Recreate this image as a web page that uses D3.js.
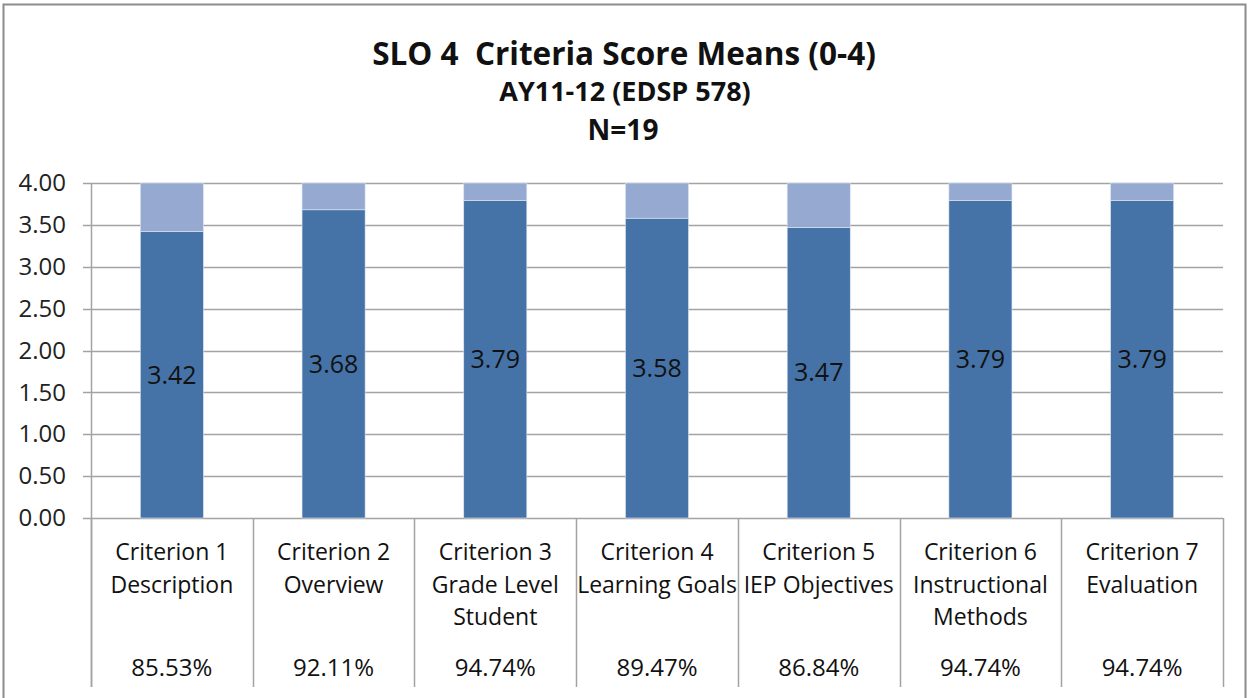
<!DOCTYPE html>
<html>
<head>
<meta charset="utf-8">
<script src="https://cdn.jsdelivr.net/npm/d3@7"></script>
<style>
  body { margin: 0; background: #fff; }
  text { font-family: "Open Sans", Lato, sans-serif; fill: #111; }
</style>
</head>
<body>
<div id="chart"></div>
<script>
// data
var categories = ["Criterion 1", "Criterion 2", "Criterion 3", "Criterion 4", "Criterion 5", "Criterion 6", "Criterion 7"];
var subLabels = [["Description"], ["Overview"], ["Grade Level", "Student"], ["Learning Goals"], ["IEP Objectives"], ["Instructional", "Methods"], ["Evaluation"]];
var means = [3.42, 3.68, 3.79, 3.58, 3.47, 3.79, 3.79];
var percents = ["85.53%", "92.11%", "94.74%", "89.47%", "86.84%", "94.74%", "94.74%"];
var yTicks = [0, 0.5, 1, 1.5, 2, 2.5, 3, 3.5, 4];
var maxScore = 4;

var width = 1249, height = 698;
var color = ["#4673A7", "#95A9D1"];

var svg = d3.select("#chart").append("svg")
    .attr("width", width)
    .attr("height", height);

// outer chart border
svg.append("rect")
    .attr("x", 3.5).attr("y", 4.5)
    .attr("width", 1242).attr("height", 700)
    .style("fill", "none")
    .style("stroke", "#8c8c8c")
    .style("stroke-width", 2);

// titles
svg.append("text").attr("x", 624).attr("y", 65).attr("text-anchor", "middle")
    .style("font-size", "31.5px").style("font-weight", "bold")
    .style("white-space", "pre")
    .text("SLO 4  Criteria Score Means (0-4)");
svg.append("text").attr("x", 625).attr("y", 101).attr("text-anchor", "middle")
    .style("font-size", "27px").style("font-weight", "bold")
    .text("AY11-12 (EDSP 578)");
svg.append("text").attr("x", 623).attr("y", 140).attr("text-anchor", "middle")
    .style("font-size", "28px").style("font-weight", "bold")
    .text("N=19");

var plotLeft = 91, plotRight = 1223, plotTop = 183, plotBottom = 518, tableBottom = 687;

var x = d3.scaleBand()
    .domain(categories)
    .range([plotLeft, plotRight])
    .paddingInner(0.61)
    .paddingOuter(0.305);

var y = d3.scaleLinear()
    .domain([0, maxScore])
    .range([plotBottom, plotTop]);

var step = x.step();

// gridlines
svg.append("g").selectAll("line")
    .data(yTicks)
    .enter().append("line")
    .attr("x1", plotLeft - 8).attr("x2", plotRight)
    .attr("y1", function(d) { return Math.round(y(d)) + 0.5; })
    .attr("y2", function(d) { return Math.round(y(d)) + 0.5; })
    .style("stroke", "#a3a3a3")
    .style("stroke-width", 1.5);

// y axis
var yAxis = d3.axisLeft(y)
    .tickValues(yTicks)
    .tickFormat(d3.format(".2f"))
    .tickSize(0)
    .tickPadding(25);

var gy = svg.append("g").attr("transform", "translate(" + plotLeft + ",0)").call(yAxis);
gy.select(".domain").remove();
gy.selectAll("text")
    .style("font-size", "24px")
    .style("font-family", "'Open Sans', Lato, sans-serif")
    .style("fill", "#222");

// vertical axis line
svg.append("line")
    .attr("x1", plotLeft + 0.5).attr("x2", plotLeft + 0.5)
    .attr("y1", plotTop).attr("y2", tableBottom)
    .style("stroke", "#a3a3a3").style("stroke-width", 1.5);

// stacked bars
var stack = d3.stack().keys(["mean", "rest"]);
var rows = categories.map(function(c, i) {
    return { cat: c, mean: means[i], rest: maxScore - means[i] };
});
var series = stack(rows);

svg.append("g").selectAll("g")
    .data(series)
    .enter().append("g")
    .style("fill", function(d, i) { return color[i]; })
    .selectAll("rect")
    .data(function(d) { return d; })
    .enter().append("rect")
    .attr("x", function(d) { return x(d.data.cat); })
    .attr("width", x.bandwidth())
    .attr("y", function(d) { return y(d[1]); })
    .attr("height", function(d) { return y(d[0]) - y(d[1]); })
    .style("stroke", "#dfe6f1")
    .style("stroke-width", 0.6);

// value labels in the dark segment
svg.append("g").selectAll("text")
    .data(rows)
    .enter().append("text")
    .attr("x", function(d) { return x(d.cat) + x.bandwidth() / 2; })
    .attr("y", function(d) { return (y(0) + y(d.mean)) / 2; })
    .attr("dy", "0.35em")
    .attr("text-anchor", "middle")
    .style("font-size", "25px")
    .text(function(d) { return d.mean.toFixed(2); });

// data table under the axis
var table = svg.append("g");
var bounds = categories.map(function(c) { return x(c) - step * 0.305; }).concat([plotRight]);
table.selectAll("line")
    .data(bounds)
    .enter().append("line")
    .attr("x1", function(d) { return Math.round(d) + 0.5; })
    .attr("x2", function(d) { return Math.round(d) + 0.5; })
    .attr("y1", plotBottom).attr("y2", tableBottom)
    .style("stroke", "#a3a3a3").style("stroke-width", 1.5);

var cells = table.selectAll("g.cell")
    .data(categories)
    .enter().append("g")
    .attr("class", "cell")
    .attr("transform", function(d) { return "translate(" + (x(d) + x.bandwidth() / 2) + ",0)"; });

cells.append("text")
    .attr("text-anchor", "middle")
    .style("font-size", "23px")
    .selectAll("tspan")
    .data(function(d, i) { return [d].concat(subLabels[i]); })
    .enter().append("tspan")
    .attr("x", 0)
    .attr("y", function(d, i) { return 560 + i * 32.5; })
    .text(function(d) { return d; });

cells.append("text")
    .attr("text-anchor", "middle")
    .attr("y", 676)
    .style("font-size", "24px")
    .text(function(d, i) { return percents[i]; });
</script>
</body>
</html>
